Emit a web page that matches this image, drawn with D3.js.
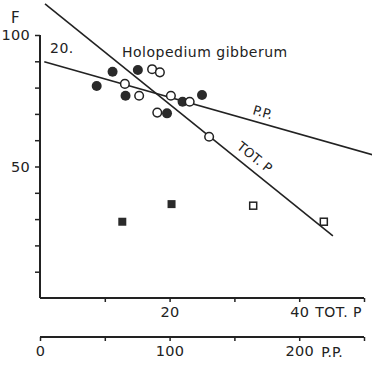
<!DOCTYPE html>
<html lang="en">
  <head>
    <meta charset="UTF-8" />
    <title>Holopedium gibberum</title>
    <style>
      body {
        margin: 0;
        background: #fff;
      }
      svg text {
        font-family: "DejaVu Sans", sans-serif;
        fill: #222;
      }
    </style>
  </head>
  <body>
    <div id="chart"></div>
    <script src="https://cdnjs.cloudflare.com/ajax/libs/d3/7.8.5/d3.min.js"></script>
    <script>
      // points as [TOT.P, F]
      var filledCircles = [
        [8.75, 80.6], [11.2, 86.0], [15.1, 86.7], [13.2, 76.9],
        [22.0, 74.6], [25.0, 77.2], [19.6, 70.2]
      ];
      var openCircles = [
        [13.1, 81.4], [15.3, 76.9], [17.3, 87.0], [18.5, 85.8],
        [20.2, 76.9], [23.1, 74.6], [18.1, 70.5], [26.1, 61.3]
      ];
      var filledSquares = [[12.7, 29.0], [20.3, 35.7]];
      var openSquares = [[32.9, 35.1], [43.8, 29.0]];

      // regression lines: [start, end] of each
      var totpLine = [[0.77, 111.8], [45.2, 23.6]]; // F vs TOT.P
      var ppLine = [[3.3, 89.8], [257, 54.4]]; // F vs P.P.

      var yTicks = [10, 20, 30, 40, 50, 60, 70, 80, 90, 100];
      var yLabels = [50, 100];
      var totpTicks = [10, 20, 30, 40, 50];
      var totpLabels = [20, 40];
      var ppTicks = [50, 100, 150, 200, 250];
      var ppLabels = [0, 100, 200];

      var width = 372,
        height = 367;
      var ink = "#222";

      var svg = d3
        .select("#chart")
        .append("svg")
        .attr("width", width)
        .attr("height", height);

      var x = d3.scaleLinear().domain([0, 50]).range([40, 364]);
      var xp = d3.scaleLinear().domain([0, 250]).range([40, 364]);
      var y = d3.scaleLinear().domain([0, 100]).range([298, 35]);

      // y axis
      var yAxis = d3
        .axisLeft(y)
        .tickValues(yTicks)
        .tickSize(5)
        .tickPadding(5)
        .tickFormat(function (d) {
          return yLabels.indexOf(d) >= 0 ? d : "";
        });
      var gy = svg
        .append("g")
        .attr("transform", "translate(" + x(0) + ",0)")
        .call(yAxis);
      gy.select(".domain").attr("d", "M0," + y(100) + "V" + y(0));

      // TOT.P axis
      var xAxis = d3
        .axisBottom(x)
        .tickValues(totpTicks)
        .tickSize(4)
        .tickPadding(5)
        .tickFormat(function (d) {
          return totpLabels.indexOf(d) >= 0 ? d : "";
        });
      var gx = svg
        .append("g")
        .attr("transform", "translate(0," + y(0) + ")")
        .call(xAxis);
      gx.select(".domain").attr("d", "M" + x(0) + ",0H" + x(50));

      // P.P. axis
      var ppAxis = d3
        .axisBottom(xp)
        .tickValues([0].concat(ppTicks))
        .tickSize(4)
        .tickPadding(5)
        .tickFormat(function (d) {
          return ppLabels.indexOf(d) >= 0 ? d : "";
        });
      var gp = svg
        .append("g")
        .attr("transform", "translate(0,337)")
        .call(ppAxis);
      gp.select(".domain").attr("d", "M" + xp(0) + ",0H" + xp(250));

      svg
        .selectAll(".domain")
        .attr("stroke", ink)
        .attr("stroke-width", 2);
      svg.selectAll(".tick line").attr("stroke", ink).attr("stroke-width", 1.5);
      svg
        .selectAll(".tick text")
        .attr("font-family", "DejaVu Sans")
        .attr("font-size", 14.5)
        .attr("letter-spacing", 0.3)
        .attr("fill", ink);

      // axis titles and labels
      svg.append("text").attr("x", 11).attr("y", 23).attr("font-size", 15).text("F");
      svg
        .append("text")
        .attr("x", x(40) + 16)
        .attr("y", 317)
        .attr("font-size", 14)
        .attr("letter-spacing", 0.5)
        .text("TOT. P");
      svg
        .append("text")
        .attr("x", xp(200) + 22)
        .attr("y", 357)
        .attr("font-size", 14)
        .text("P.P.");
      svg
        .append("text")
        .attr("x", 50)
        .attr("y", 53)
        .attr("font-size", 14)
        .attr("letter-spacing", 0.5)
        .text("20.");
      svg
        .append("text")
        .attr("x", 122)
        .attr("y", 57)
        .attr("font-size", 14)
        .attr("letter-spacing", 0.5)
        .text("Holopedium gibberum");

      // regression lines
      svg
        .append("line")
        .attr("x1", x(totpLine[0][0]))
        .attr("y1", y(totpLine[0][1]))
        .attr("x2", x(totpLine[1][0]))
        .attr("y2", y(totpLine[1][1]))
        .attr("stroke", ink)
        .attr("stroke-width", 1.6);
      svg
        .append("line")
        .attr("x1", xp(ppLine[0][0]))
        .attr("y1", y(ppLine[0][1]))
        .attr("x2", xp(ppLine[1][0]))
        .attr("y2", y(ppLine[1][1]))
        .attr("stroke", ink)
        .attr("stroke-width", 1.6);

      // line labels, rotated along the lines
      var aTot =
        (Math.atan2(
          y(totpLine[1][1]) - y(totpLine[0][1]),
          x(totpLine[1][0]) - x(totpLine[0][0])
        ) *
          180) /
        Math.PI;
      var aPP =
        (Math.atan2(
          y(ppLine[1][1]) - y(ppLine[0][1]),
          xp(ppLine[1][0]) - xp(ppLine[0][0])
        ) *
          180) /
        Math.PI;
      svg
        .append("text")
        .attr("transform", "translate(236,148) rotate(" + aTot + ")")
        .attr("font-size", 13)
        .text("TOT. P");
      svg
        .append("text")
        .attr("transform", "translate(252,114) rotate(" + aPP + ")")
        .attr("font-size", 13)
        .text("P.P.");

      // points
      svg
        .selectAll(".fc")
        .data(filledCircles)
        .enter()
        .append("circle")
        .attr("class", "fc")
        .attr("cx", function (d) { return x(d[0]); })
        .attr("cy", function (d) { return y(d[1]); })
        .attr("r", 5)
        .attr("fill", "#2a2a2a");
      svg
        .selectAll(".oc")
        .data(openCircles)
        .enter()
        .append("circle")
        .attr("class", "oc")
        .attr("cx", function (d) { return x(d[0]); })
        .attr("cy", function (d) { return y(d[1]); })
        .attr("r", 4.3)
        .attr("fill", "#fff")
        .attr("stroke", ink)
        .attr("stroke-width", 1.5);
      svg
        .selectAll(".fs")
        .data(filledSquares)
        .enter()
        .append("rect")
        .attr("class", "fs")
        .attr("x", function (d) { return x(d[0]) - 4; })
        .attr("y", function (d) { return y(d[1]) - 4; })
        .attr("width", 8)
        .attr("height", 8)
        .attr("fill", "#2a2a2a");
      svg
        .selectAll(".os")
        .data(openSquares)
        .enter()
        .append("rect")
        .attr("class", "os")
        .attr("x", function (d) { return x(d[0]) - 3.5; })
        .attr("y", function (d) { return y(d[1]) - 3.5; })
        .attr("width", 7)
        .attr("height", 7)
        .attr("fill", "none")
        .attr("stroke", ink)
        .attr("stroke-width", 1.5);
    </script>
  </body>
</html>
